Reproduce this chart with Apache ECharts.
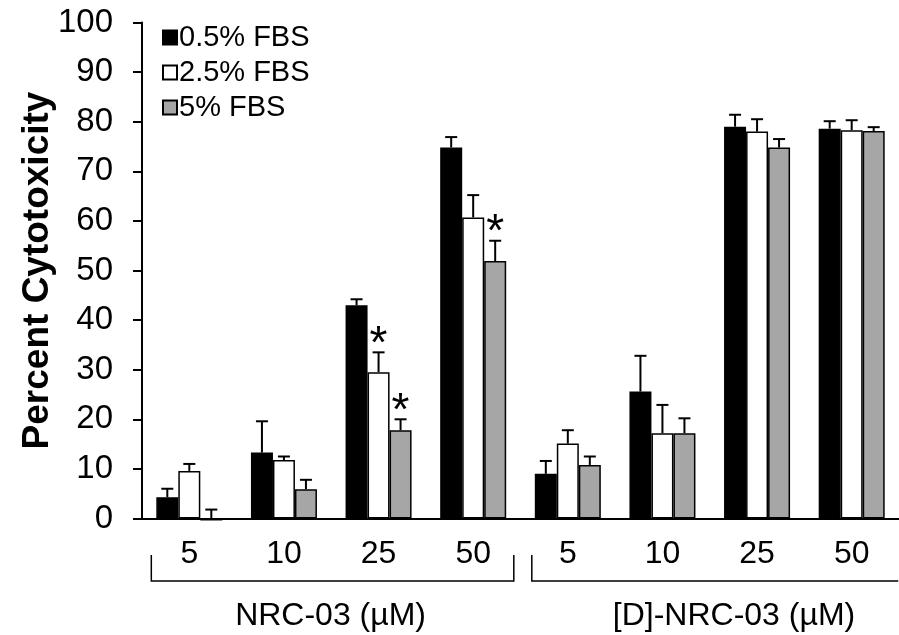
<!DOCTYPE html>
<html>
<head>
<meta charset="utf-8">
<script src="https://cdn.jsdelivr.net/npm/echarts@6/dist/echarts.min.js"></script>
<style>html,body{margin:0;padding:0;background:#fff;}#c{width:899px;height:635px;}</style>
</head>
<body>
<div id="c"></div>
<script>
var categories = ['5', '10', '25', '50', '5', '10', '25', '50'];
var seriesNames = ['0.5% FBS', '2.5% FBS', '5% FBS'];
var fbs05 = [4.3, 13.3, 43.0, 74.8, 9.0, 25.6, 79.0, 78.6];
var fbs25 = [9.6, 11.8, 29.5, 60.7, 15.1, 17.2, 78.0, 78.3];
var fbs5  = [-0.4, 5.9, 17.8, 51.9, 10.8, 17.2, 74.8, 78.1];
var err05 = [1.7, 6.3, 1.2, 2.1, 2.6, 7.2, 2.4, 1.5];
var err25 = [1.4, 0.7, 4.0, 4.5, 2.7, 5.7, 2.5, 2.0];
var err5  = [2.2, 1.9, 2.2, 4.1, 1.7, 3.0, 1.7, 0.8];
var sig05 = [0, 0, 0, 0, 0, 0, 0, 0];
var sig25 = [0, 0, 1, 0, 0, 0, 0, 0];
var sig5  = [0, 0, 1, 1, 0, 0, 0, 0];
var yTicks = [0, 10, 20, 30, 40, 50, 60, 70, 80, 90, 100];
var groupLabels = ['NRC-03 (µM)', '[D]-NRC-03 (µM)'];

var FONT = 'Arial, "Liberation Sans", sans-serif';
var colors = ['#000000', '#ffffff', '#a6a6a6'];
var values = [fbs05, fbs25, fbs5];
var errs = [err05, err25, err5];
var sigs = [sig05, sig25, sig5];
var BAR_W = 22;

var chart = echarts.init(document.getElementById('c'), null, {renderer: 'canvas'});

var series = [];
for (var s = 0; s < 3; s++) {
  series.push({
    name: seriesNames[s],
    type: 'bar',
    data: values[s],
    barWidth: BAR_W,
    barGap: '0%',
    clip: false,
    itemStyle: {color: colors[s], borderColor: '#000', borderWidth: 1.5},
    emphasis: {disabled: true},
    z: 2
  });
}
for (var s2 = 0; s2 < 3; s2++) {
  (function (si) {
    var d = [];
    for (var i = 0; i < categories.length; i++) {
      d.push([i, values[si][i], values[si][i] + errs[si][i], sigs[si][i]]);
    }
    series.push({
      type: 'custom',
      data: d,
      z: 3,
      clip: false,
      silent: true,
      renderItem: function (params, api) {
        var idx = api.value(0);
        var base = api.coord([idx, Math.max(api.value(1), 0)]);
        var top = api.coord([idx, api.value(2)]);
        var x = base[0] + (si - 1) * BAR_W;
        var children = [
          {type: 'line', shape: {x1: x, y1: base[1], x2: x, y2: top[1]}, style: {stroke: '#000', lineWidth: 2}},
          {type: 'line', shape: {x1: x - 6, y1: top[1], x2: x + 6, y2: top[1]}, style: {stroke: '#000', lineWidth: 2}}
        ];
        if (api.value(3)) {
          children.push({type: 'text', style: {text: '*', x: x, y: top[1] - 7, align: 'center', verticalAlign: 'middle', font: '46px ' + FONT, fill: '#000'}});
        }
        return {type: 'group', children: children};
      }
    });
  })(s2);
}

var option = {
  animation: false,
  backgroundColor: '#fff',
  grid: {left: 142, top: 22.5, width: 768, height: 496},
  legend: {
    data: seriesNames,
    orient: 'vertical',
    left: 157,
    top: 18,
    icon: 'rect',
    itemWidth: 14,
    itemHeight: 14,
    itemGap: 6,
    selectedMode: false,
    textStyle: {fontFamily: FONT, fontSize: 29, color: '#000', lineHeight: 29, padding: [0, 0, 0, -3]}
  },
  xAxis: {
    type: 'category',
    data: categories,
    axisLine: {lineStyle: {color: '#000', width: 2}},
    axisTick: {length: 6, lineStyle: {color: '#000', width: 2}},
    axisLabel: {fontFamily: FONT, fontSize: 32, color: '#000', margin: 20}
  },
  yAxis: {
    type: 'value',
    min: 0,
    max: 100,
    interval: 10,
    name: 'Percent Cytotoxicity',
    nameLocation: 'middle',
    nameGap: 86,
    nameMoveOverlap: false,
    nameTextStyle: {fontFamily: FONT, fontSize: 37, fontWeight: 'bold', color: '#000'},
    splitLine: {show: false},
    axisLine: {show: true, lineStyle: {color: '#000', width: 2}},
    axisTick: {show: true, length: 9, lineStyle: {color: '#000', width: 2}},
    axisLabel: {fontFamily: FONT, fontSize: 33, color: '#000', margin: 29,
      formatter: function (v) { return yTicks.indexOf(v) >= 0 ? String(v) : ''; }}
  },
  series: series
};
chart.setOption(option);

// Group brackets and labels (positions derived from the axis)
var leftEdge = chart.convertToPixel({xAxisIndex: 0}, 0) - 48;
var catW = chart.convertToPixel({xAxisIndex: 0}, 1) - chart.convertToPixel({xAxisIndex: 0}, 0);
var g1a = leftEdge + 10, g1b = leftEdge + 4 * catW - 6;
var g2a = leftEdge + 4 * catW + 12, g2b = leftEdge + 8 * catW;
var yTop = 555, yBot = 581;
chart.setOption({
  graphic: [
    {type: 'polyline', shape: {points: [[g1a, yTop], [g1a, yBot], [g1b, yBot], [g1b, yTop]]}, style: {stroke: '#000', lineWidth: 1.5, fill: null}},
    {type: 'polyline', shape: {points: [[g2a, yTop], [g2a, yBot], [g2b, yBot]]}, style: {stroke: '#000', lineWidth: 1.5, fill: null}},
    {type: 'text', x: (leftEdge + 2 * catW), y: 616, style: {text: groupLabels[0], font: '32px ' + FONT, fill: '#000', align: 'center', verticalAlign: 'middle'}},
    {type: 'text', x: 734, y: 616, style: {text: groupLabels[1], font: '32px ' + FONT, fill: '#000', align: 'center', verticalAlign: 'middle'}}
  ]
});
</script>
</body>
</html>
